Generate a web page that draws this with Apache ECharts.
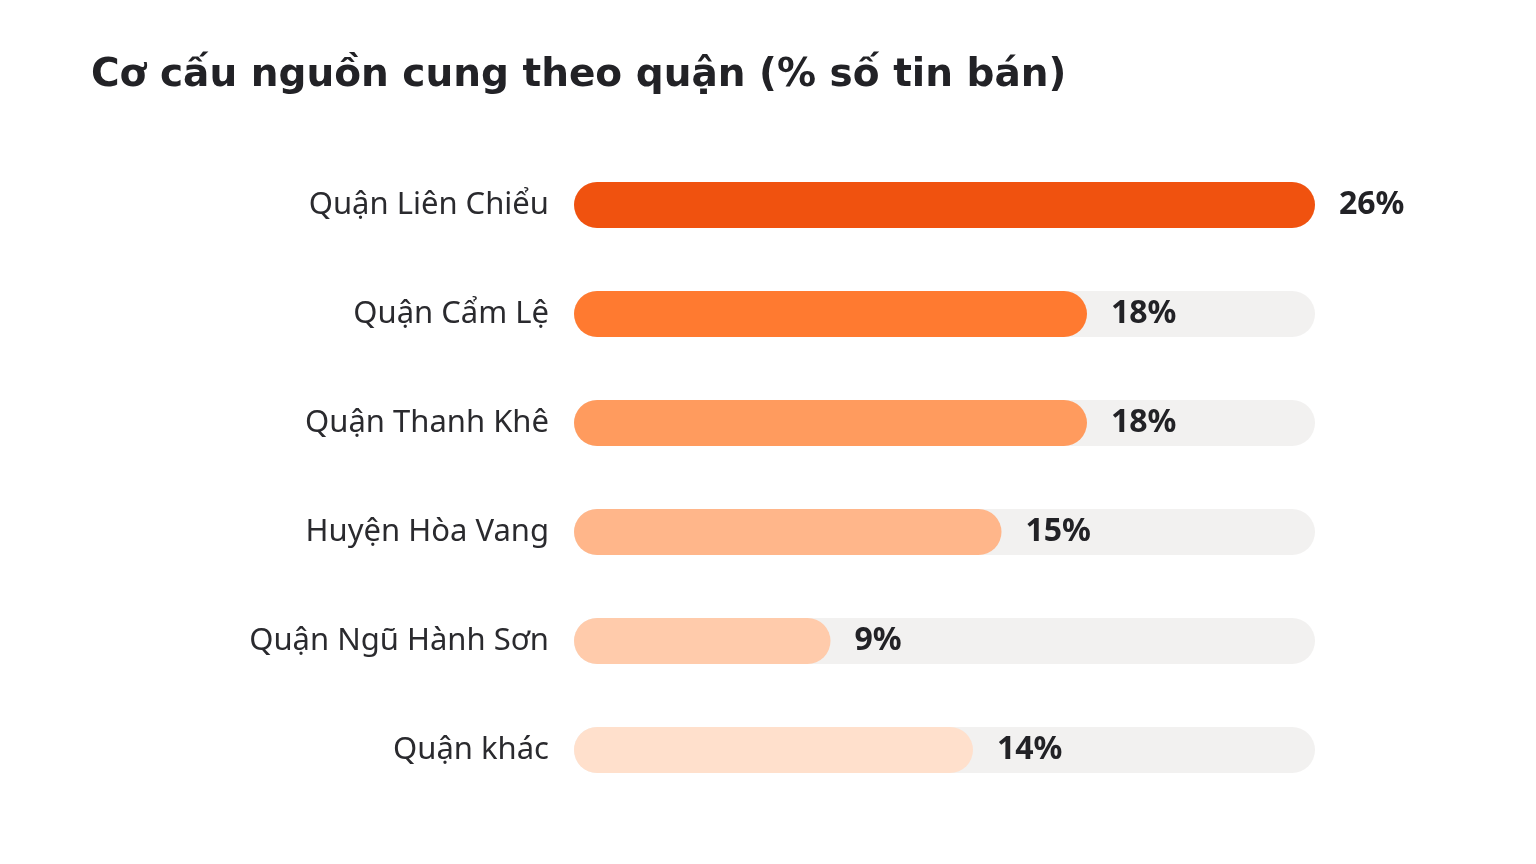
<!DOCTYPE html>
<html><head><meta charset="utf-8">
<script src="https://cdn.jsdelivr.net/npm/echarts@6/dist/echarts.min.js"></script>
<style>html,body{margin:0;padding:0;background:#fff}#c{width:1536px;height:864px}</style>
</head><body><div id="c"></div>
<script>
const categories = ["Quận Liên Chiểu","Quận Cẩm Lệ","Quận Thanh Khê","Huyện Hòa Vang","Quận Ngũ Hành Sơn","Quận khác"];
const values = [26,18,18,15,9,14];
const colors = ["#F0520F","#FF7A30","#FF9B5E","#FFB68A","#FFCBAB","#FFE0CC"];
const chart = echarts.init(document.getElementById('c'));
chart.setOption({
  animation:false,
  backgroundColor:'#ffffff',
  title:{text:'Cơ cấu nguồn cung theo quận (% số tin bán)',left:86,top:51,
    textStyle:{fontFamily:'DejaVu Sans',fontWeight:'bold',fontSize:39,color:'#222226'}},
  grid:{left:574,right:221,top:150.5,bottom:59.5},
  xAxis:{type:'value',min:0,max:26,show:false},
  yAxis:{type:'category',data:categories,inverse:true,
    axisLine:{show:false},axisTick:{show:false},
    axisLabel:{margin:25,fontFamily:'Noto Sans',fontSize:31,color:'#2a2a2e',padding:[6,0,0,0]}},
  series:[{type:'bar',barWidth:46,
    data:values.map((v,i)=>({value:v,itemStyle:{color:colors[i]}})),
    itemStyle:{borderRadius:23},
    showBackground:true,
    backgroundStyle:{color:'#F2F1F0',borderRadius:23},
    label:{show:true,position:'right',distance:24,formatter:'{c}%',
      fontFamily:'Noto Sans',fontWeight:'bold',fontSize:32,color:'#222226',padding:[6,0,0,0]}
  }]
});
</script></body></html>
